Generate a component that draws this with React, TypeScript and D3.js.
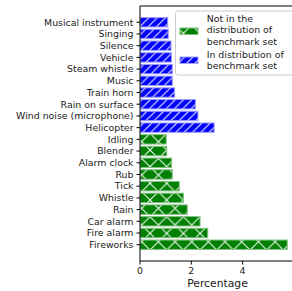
import React from "react"
import * as d3 from "d3"

// bottom to top, as drawn
const notInCategories = ["Fireworks", "Fire alarm", "Car alarm", "Rain", "Whistle", "Tick", "Rub", "Alarm clock", "Blender", "Idling"]
const notInValues = [5.74, 2.64, 2.34, 1.84, 1.69, 1.53, 1.26, 1.23, 1.04, 1.02]
const inCategories = ["Helicopter", "Wind noise (microphone)", "Rain on surface", "Train horn", "Music", "Steam whistle", "Vehicle", "Silence", "Singing", "Musical instrument"]
const inValues = [2.89, 2.26, 2.16, 1.35, 1.26, 1.26, 1.23, 1.21, 1.1, 1.08]
const xTicks = [0, 2, 4]
const legendNotIn = ["Not in the", "distribution of", "benchmark set"]
const legendIn = ["In distribution of", "benchmark set"]

const FONT = "DejaVu Sans, sans-serif"

export default function App() {
  const left = 140
  const top = 6
  const bottom = 261
  const xMax = 6.1
  const x = d3.scaleLinear().domain([0, xMax]).range([left, left + xMax * 25.65])
  const n = notInCategories.length + inCategories.length
  const y = d3.scaleLinear().domain([-1.39, n - 1 + 1.39]).range([bottom, top])
  const barH = Math.abs(y(0.4) - y(-0.4))

  const rows = [
    ...notInCategories.map((c, i) => ({ c, v: notInValues[i], fill: "#008000", pat: "url(#hx)", edge: "#7fbf7f" })),
    ...inCategories.map((c, i) => ({ c, v: inValues[i], fill: "#0000ff", pat: "url(#hs)", edge: "#9f9fff" })),
  ]

  return (
    <svg width={292} height={291} style={{ position: "absolute", left: 0, top: 0 }} fontFamily={FONT}>
      <defs>
        <pattern id="hx" patternUnits="userSpaceOnUse" width={16.67} height={16.67}>
          <path d="M0,0L16.67,16.67M0,16.67L16.67,0" stroke="white" strokeWidth={1} />
        </pattern>
        <pattern id="hs" patternUnits="userSpaceOnUse" width={8.33} height={8.33}>
          <path d="M0,8.33L8.33,0M-2,2L2,-2M6.33,10.33L10.33,6.33" stroke="white" strokeWidth={1} />
        </pattern>
        <clipPath id="plot">
          <rect x={left} y={top} width={400} height={bottom - top} />
        </clipPath>
      </defs>
      <rect width={292} height={291} fill="white" />
      <g clipPath="url(#plot)">
        {rows.map((r, i) => (
          <g key={r.c}>
            <rect x={x(0)} y={y(i) - barH / 2} width={x(r.v) - x(0)} height={barH} fill={r.fill} />
            <rect x={x(0)} y={y(i) - barH / 2} width={x(r.v) - x(0)} height={barH} fill={r.pat} stroke={r.edge} strokeWidth={1} />
          </g>
        ))}
      </g>
      {/* spines */}
      <line x1={left} x2={left} y1={top} y2={bottom} stroke="black" strokeWidth={1} />
      <line x1={left} x2={300} y1={top} y2={top} stroke="black" strokeWidth={1} />
      <line x1={left} x2={300} y1={bottom} y2={bottom} stroke="black" strokeWidth={1} />
      {/* y ticks */}
      {rows.map((r, i) => (
        <g key={"t" + r.c}>
          <line x1={left - 3.5} x2={left} y1={y(i)} y2={y(i)} stroke="black" strokeWidth={1} />
          <text x={left - 6.5} y={y(i)} dy="0.35em" textAnchor="end" fontSize={9.4} fill="#222">{r.c}</text>
        </g>
      ))}
      {/* x ticks */}
      {xTicks.map(t => (
        <g key={"x" + t}>
          <line x1={x(t)} x2={x(t)} y1={bottom} y2={bottom + 3.5} stroke="black" strokeWidth={1} />
          <text x={x(t)} y={bottom + 13} textAnchor="middle" fontSize={9.4} fill="#222">{t}</text>
        </g>
      ))}
      <text x={217.5} y={287} textAnchor="middle" fontSize={10.8} fill="#222">Percentage</text>
      {/* legend */}
      <rect x={175.5} y={11} width={125} height={64} rx={2.5} fill="white" fillOpacity={0.8} stroke="#cccccc" strokeWidth={1} />
      <rect x={180} y={28} width={18} height={6.5} fill="#008000" />
      <rect x={180} y={28} width={18} height={6.5} fill="url(#hx)" stroke="#7fbf7f" strokeWidth={1} />
      <rect x={180} y={57} width={18} height={6.5} fill="#0000ff" />
      <rect x={180} y={57} width={18} height={6.5} fill="url(#hs)" stroke="#9f9fff" strokeWidth={1} />
      {legendNotIn.map((s, i) => (
        <text key={"a" + i} x={206.7} y={19 + i * 11.2} dy="0.35em" fontSize={9.4} fill="#222">{s}</text>
      ))}
      {legendIn.map((s, i) => (
        <text key={"b" + i} x={206.7} y={54.7 + i * 11.2} dy="0.35em" fontSize={9.4} fill="#222">{s}</text>
      ))}
    </svg>
  )
}
